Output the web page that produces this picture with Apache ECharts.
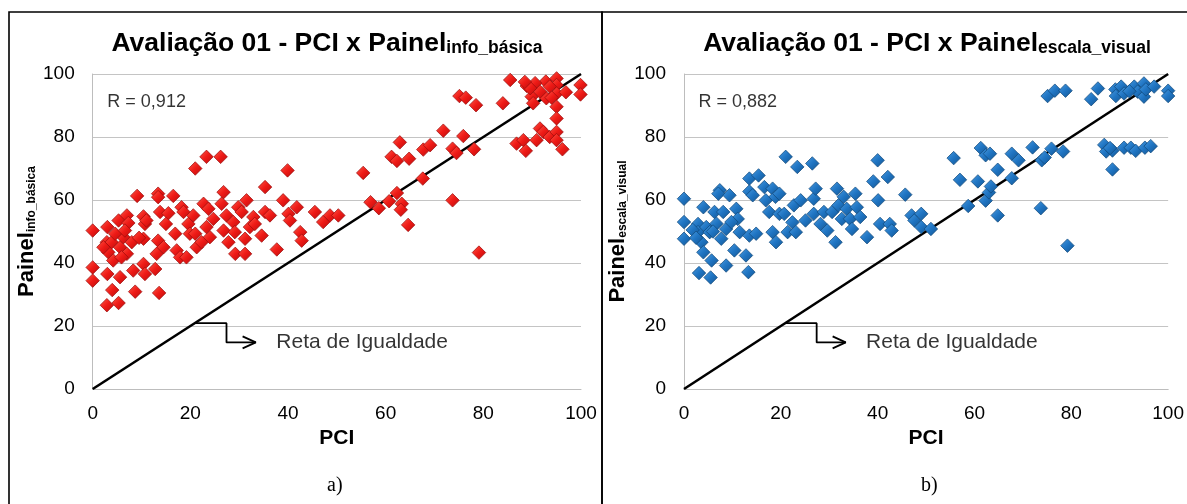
<!DOCTYPE html>
<html>
<head>
<meta charset="utf-8">
<script src="https://cdn.jsdelivr.net/npm/echarts@6/dist/echarts.min.js"></script>
<style>
html,body{margin:0;padding:0;background:#fff;}
#c{width:1187px;height:504px;}
</style>
</head>
<body>
<div id="c"></div>
<script>
// ---- data ----
const axisTicks = [0, 20, 40, 60, 80, 100];
const titleMain = 'Avaliação 01 - PCI x Painel';
const subA = 'info_básica';
const subB = 'escala_visual';
const rA = 'R = 0,912';
const rB = 'R = 0,882';
const equalityLine = [[0, 0], [100, 100]];
const annotPath = [[20.9, 20.9], [27.4, 20.9], [27.4, 14.8], [33.4, 14.8]];
const annotArrow = [[30.7, 16.7], [33.4, 14.8], [30.7, 12.9]];
const annotText = 'Reta de Igualdade';
const annotTextPos = [37.6, 14.8];
const rTextPos = [3, 91];

const infoBasica = [
[0,50.3],[0,38.6],[0,34.4],[3.0,51.4],[3.0,36.5],[4.0,31.4],[2.9,26.6],[5.3,27.3],[8.7,30.9],[13.6,30.5],
[5.6,35.5],[8.3,37.6],[10.4,39.7],[10.7,36.5],[12.8,38.1],[2.9,46.6],[3.9,46.6],[3.2,43.4],[4.2,40.8],[5.6,45],
[6.3,48.2],[7.0,42.9],[8.0,46.6],[5.3,53.5],[7.0,55.1],[7.3,52.7],[9.1,61.3],[10.4,54.8],[10.7,52.4],[10.4,47.7],
[13.4,62.0],[13.4,60.9],[13.8,56.2],[13.4,47.1],[14.5,45],[13.1,42.9],[15.5,55.8],[15.0,52.4],[16.5,61.3],[16.9,49.3],
[17.2,44],[17.9,41.8],[19.2,41.8],[18.2,57.7],[18.6,56.2],[19.6,52.4],[19.9,49.3],[20.6,55.1],[21.0,70],[23.3,73.7],
[26.2,73.7],[21.3,45],[22.3,46.6],[21.0,49.3],[22.7,58.8],[23.7,57.2],[24.0,48.2],[23.3,51.4],[24.7,54],[26.8,62.5],
[26.4,58.8],[26.8,50.3],[27.8,46.6],[29.2,42.9],[31.2,42.9],[27.4,55.1],[28.8,53],[29.1,49.8],[29.8,57.7],[30.5,56.2],
[31.5,59.9],[31.2,47.7],[32.2,51.4],[32.9,54.6],[33.2,52.4],[34.6,48.7],[35.3,64.1],[35.3,56.2],[36.3,55.1],[37.7,44.3],
[39.0,59.9],[39.9,69.4],[40.1,55.6],[40.4,53.5],[41.8,57.7],[42.5,49.8],[42.8,47.1],[45.5,56.2],[47.2,53],[48.6,55.1],
[50.3,55.1],[2.2,45],[4.6,49.3],[6.6,50.3],[5.9,41.8],[11.0,53.5],[9.5,48],
[55.4,68.6],[56.9,59.3],[58.6,57.4],[60.7,59.6],[62.3,62.2],[63.3,58.8],[63.1,56.9],[64.6,52.1],[61.2,73.7],[62.3,72.4],
[62.9,78.3],[64.8,73.1],[67.6,66.8],[67.7,76.0],[69.1,77.4],[71.8,82.0],[73.7,59.9],[73.7,76.3],[74.5,74.9],[75.1,93.0],
[76.4,92.5],[78.5,90.1],[75.9,80.3],[78.1,76.1],[79.1,43.3],[84.0,90.7],[85.5,98.1],[86.8,77.9],[88.2,79.0],[88.7,75.6],
[88.9,96.2],[89.9,92.8],[90.2,90.7],[90.9,79.0],[91.6,82.7],[92.3,81.6],[92.8,97.6],[92.9,92.3],[93.6,80.0],[95.0,98.6],
[95.0,96.5],[95.0,93.8],[95.0,89.6],[95.0,85.9],[95.0,81.6],[95.0,79.0],[96.2,76.1],[96.9,94.2],[99.9,96.5],[99.9,93.5],
[90.6,97.1],[91.6,94.4],[93.6,96],[89.6,95.5],[88.5,97.5],[94,92.5]
];

const escalaVisual = [
[0,60.4],[0,53],[0,47.7],[3.1,36.8],[5.5,35.4],[4.0,57.7],[2.9,52.4],[2.9,49.8],[3.6,46.6],[4.0,43.4],
[4.6,51.4],[5.7,40.8],[5.3,49.8],[6.3,56.2],[6.7,52.5],[7.4,63.1],[7.1,62],[7.7,47.7],[8.1,56.2],[8.7,50.8],
[9.4,61.5],[8.7,39.2],[10.4,44],[10.8,57.2],[11.1,54],[11.5,49.8],[12.8,42.4],[13.3,37.1],[13.5,66.8],[13.5,62.7],
[14.2,61.5],[15.4,67.8],[13.5,48.7],[14.9,49.3],[16.6,64.1],[16.9,59.9],[17.6,56.2],[18.3,63.6],[18.9,61],[19.7,62],
[18.3,49.8],[19.0,46.6],[19.7,55.6],[21.0,73.7],[20.7,55.6],[21.4,49.8],[22.4,52.9],[22.7,58.3],[23.4,70.5],[24.1,59.9],
[23.1,49.8],[25.1,53.5],[26.5,71.6],[26.8,60.4],[27.2,63.6],[26.8,55.6],[28.2,52.4],[28.9,56.2],[29.6,50.3],[30.6,56.2],
[31.3,46.6],[31.6,63.6],[31.9,58.3],[32.6,54],[33.0,61],[33.6,57.2],[34.3,54],[34.7,50.8],[35.4,62],[35.7,57.7],
[36.4,54.6],[37.8,48.2],[39.1,65.9],[40.0,72.6],[40.1,59.9],[40.5,52.4],[42.1,67.3],[42.5,52.4],[42.9,50.3],[45.7,61.7],
[47.0,55.1],[47.6,53.5],[49.0,55.6],[49.0,51.4],[51.0,50.8],[1.8,50.5],[2.5,48],[6.0,50],[9.8,53],
[55.7,73.3],[57.0,66.4],[58.7,58.1],[60.7,65.9],[61.3,76.5],[62.3,74.2],[63.2,74.7],[62.3,59.8],[63.0,62.4],[63.4,64.3],
[64.8,69.6],[64.8,55.1],[67.7,74.7],[67.7,66.9],[69.1,72.6],[72.0,76.7],[73.7,57.4],[73.9,72.6],[75.9,76.3],[78.3,75.4],
[75.1,93.0],[76.6,94.7],[78.8,94.7],[79.2,45.5],[84.1,92.0],[85.5,95.4],[86.8,77.5],[87.2,75.4],[88.5,75.7],[88.5,69.7],
[89.1,95.1],[89.2,93.0],[90.3,96.0],[90.9,93.8],[90.9,76.6],[92.3,76.6],[93.3,75.6],[93.0,96.0],[93.7,94.4],[95.0,97.0],
[95.0,92.8],[95.2,76.6],[95.4,95.1],[96.4,77.1],[97.1,96.0],[100,94.7],[100,93.0],[74.5,73.5],[88,76.5],[92,94.5]
];

// ---- chart ----
const FONT = '"Liberation Sans", Arial, sans-serif';
const chart = echarts.init(document.getElementById('c'), null, {renderer: 'canvas'});

function grad(c1, c2, c3) {
  return {type: 'linear', x: 0, y: 0, x2: 1, y2: 1,
    colorStops: [{offset: 0, color: c1}, {offset: 0.5, color: c2}, {offset: 1, color: c3}]};
}
const redFill = grad('#ff5a4a', '#ee1a16', '#b80c0c');
const blueFill = grad('#4a9be0', '#1f74c2', '#145590');

function titleObj(center, sub) {
  return {
    text: '{m|' + titleMain + '}{s|' + sub + '}',
    left: center, top: 25, textAlign: 'center',
    textStyle: {rich: {
      m: {fontSize: 26.5, fontWeight: 'bold', fontFamily: FONT, color: '#000', verticalAlign: 'bottom'},
      s: {fontSize: 17.5, fontWeight: 'bold', fontFamily: FONT, color: '#000', verticalAlign: 'bottom'}
    }}
  };
}

function xAx(idx) {
  return {
    gridIndex: idx, type: 'value', min: axisTicks[0], max: axisTicks[axisTicks.length - 1], interval: 20,
    name: 'PCI', nameLocation: 'middle', nameGap: 38,
    nameTextStyle: {fontSize: 21, fontWeight: 'bold', fontFamily: FONT, color: '#000'},
    axisLine: {show: true, lineStyle: {color: '#bdbdbd', width: 1}},
    axisTick: {show: false},
    splitLine: {show: false},
    axisLabel: {fontSize: 19, fontFamily: FONT, color: '#000', margin: 15}
  };
}
function yAx(idx, sub) {
  return {
    gridIndex: idx, type: 'value', min: axisTicks[0], max: axisTicks[axisTicks.length - 1], interval: 20,
    name: '{m|Painel}{s|' + sub + '}', nameLocation: 'middle', nameRotate: 90, nameGap: 55,
    nameTextStyle: {rich: {
      m: {fontSize: 22, fontWeight: 'bold', fontFamily: FONT, color: '#000', verticalAlign: 'bottom'},
      s: {fontSize: 12, fontWeight: 'bold', fontFamily: FONT, color: '#000', verticalAlign: 'bottom'}
    }},
    axisLine: {show: true, lineStyle: {color: '#bdbdbd', width: 1}},
    axisTick: {show: false},
    splitLine: {show: true, lineStyle: {color: '#c4c4c4', width: 1}},
    axisLabel: {fontSize: 19, fontFamily: FONT, color: '#000', margin: 18}
  };
}

function seriesFor(idx, data, fill, border, rText) {
  return [
    {type: 'line', xAxisIndex: idx, yAxisIndex: idx, data: equalityLine, symbol: 'none', silent: true,
      lineStyle: {color: '#000', width: 2.6}, z: 2},
    {type: 'line', xAxisIndex: idx, yAxisIndex: idx, data: annotPath, symbol: 'none', silent: true,
      lineStyle: {color: '#000', width: 1.8}, z: 2},
    {type: 'line', xAxisIndex: idx, yAxisIndex: idx, data: annotArrow, symbol: 'none', silent: true,
      lineStyle: {color: '#000', width: 1.8}, z: 2},
    {type: 'scatter', xAxisIndex: idx, yAxisIndex: idx, data: [annotTextPos], symbolSize: 0, silent: true,
      label: {show: true, position: 'right', distance: 0, formatter: annotText,
        fontSize: 21, fontFamily: FONT, color: '#000'}, z: 3},
    {type: 'scatter', xAxisIndex: idx, yAxisIndex: idx, data: [rTextPos], symbolSize: 0, silent: true,
      label: {show: true, position: 'right', distance: 0, formatter: rText,
        fontSize: 18, fontFamily: FONT, color: '#000'}, z: 3},
    {type: 'scatter', xAxisIndex: idx, yAxisIndex: idx, data: data, symbol: 'diamond', symbolSize: 13.5,
      itemStyle: {color: fill, borderColor: border, borderWidth: 0.7, opacity: 1}, z: 4}
  ];
}

const option = {
  animation: false,
  backgroundColor: '#fff',
  title: [titleObj(322, subA), titleObj(922, subB)],
  grid: [
    {left: 92.7, top: 74, width: 488.3, height: 315},
    {left: 684, top: 74, width: 489, height: 315}
  ],
  xAxis: [xAx(0), xAx(1)],
  yAxis: [yAx(0, subA), yAx(1, subB)],
  series: [].concat(
    seriesFor(0, infoBasica, redFill, '#9a0a0a', rA),
    seriesFor(1, escalaVisual, blueFill, '#0f4678', rB)
  ),
  graphic: [
    {type: 'rect', shape: {x: 9, y: 12, width: 593, height: 600}, style: {fill: 'none', stroke: '#000', lineWidth: 1.6}, silent: true},
    {type: 'rect', shape: {x: 602, y: 12, width: 600, height: 600}, style: {fill: 'none', stroke: '#000', lineWidth: 1.6}, silent: true},
    {type: 'text', left: 327, top: 476, style: {text: 'a)', font: '20px "Liberation Serif", "Times New Roman", serif', fill: '#000'}},
    {type: 'text', left: 921, top: 476, style: {text: 'b)', font: '20px "Liberation Serif", "Times New Roman", serif', fill: '#000'}}
  ]
};
chart.setOption(option);
</script>
</body>
</html>
